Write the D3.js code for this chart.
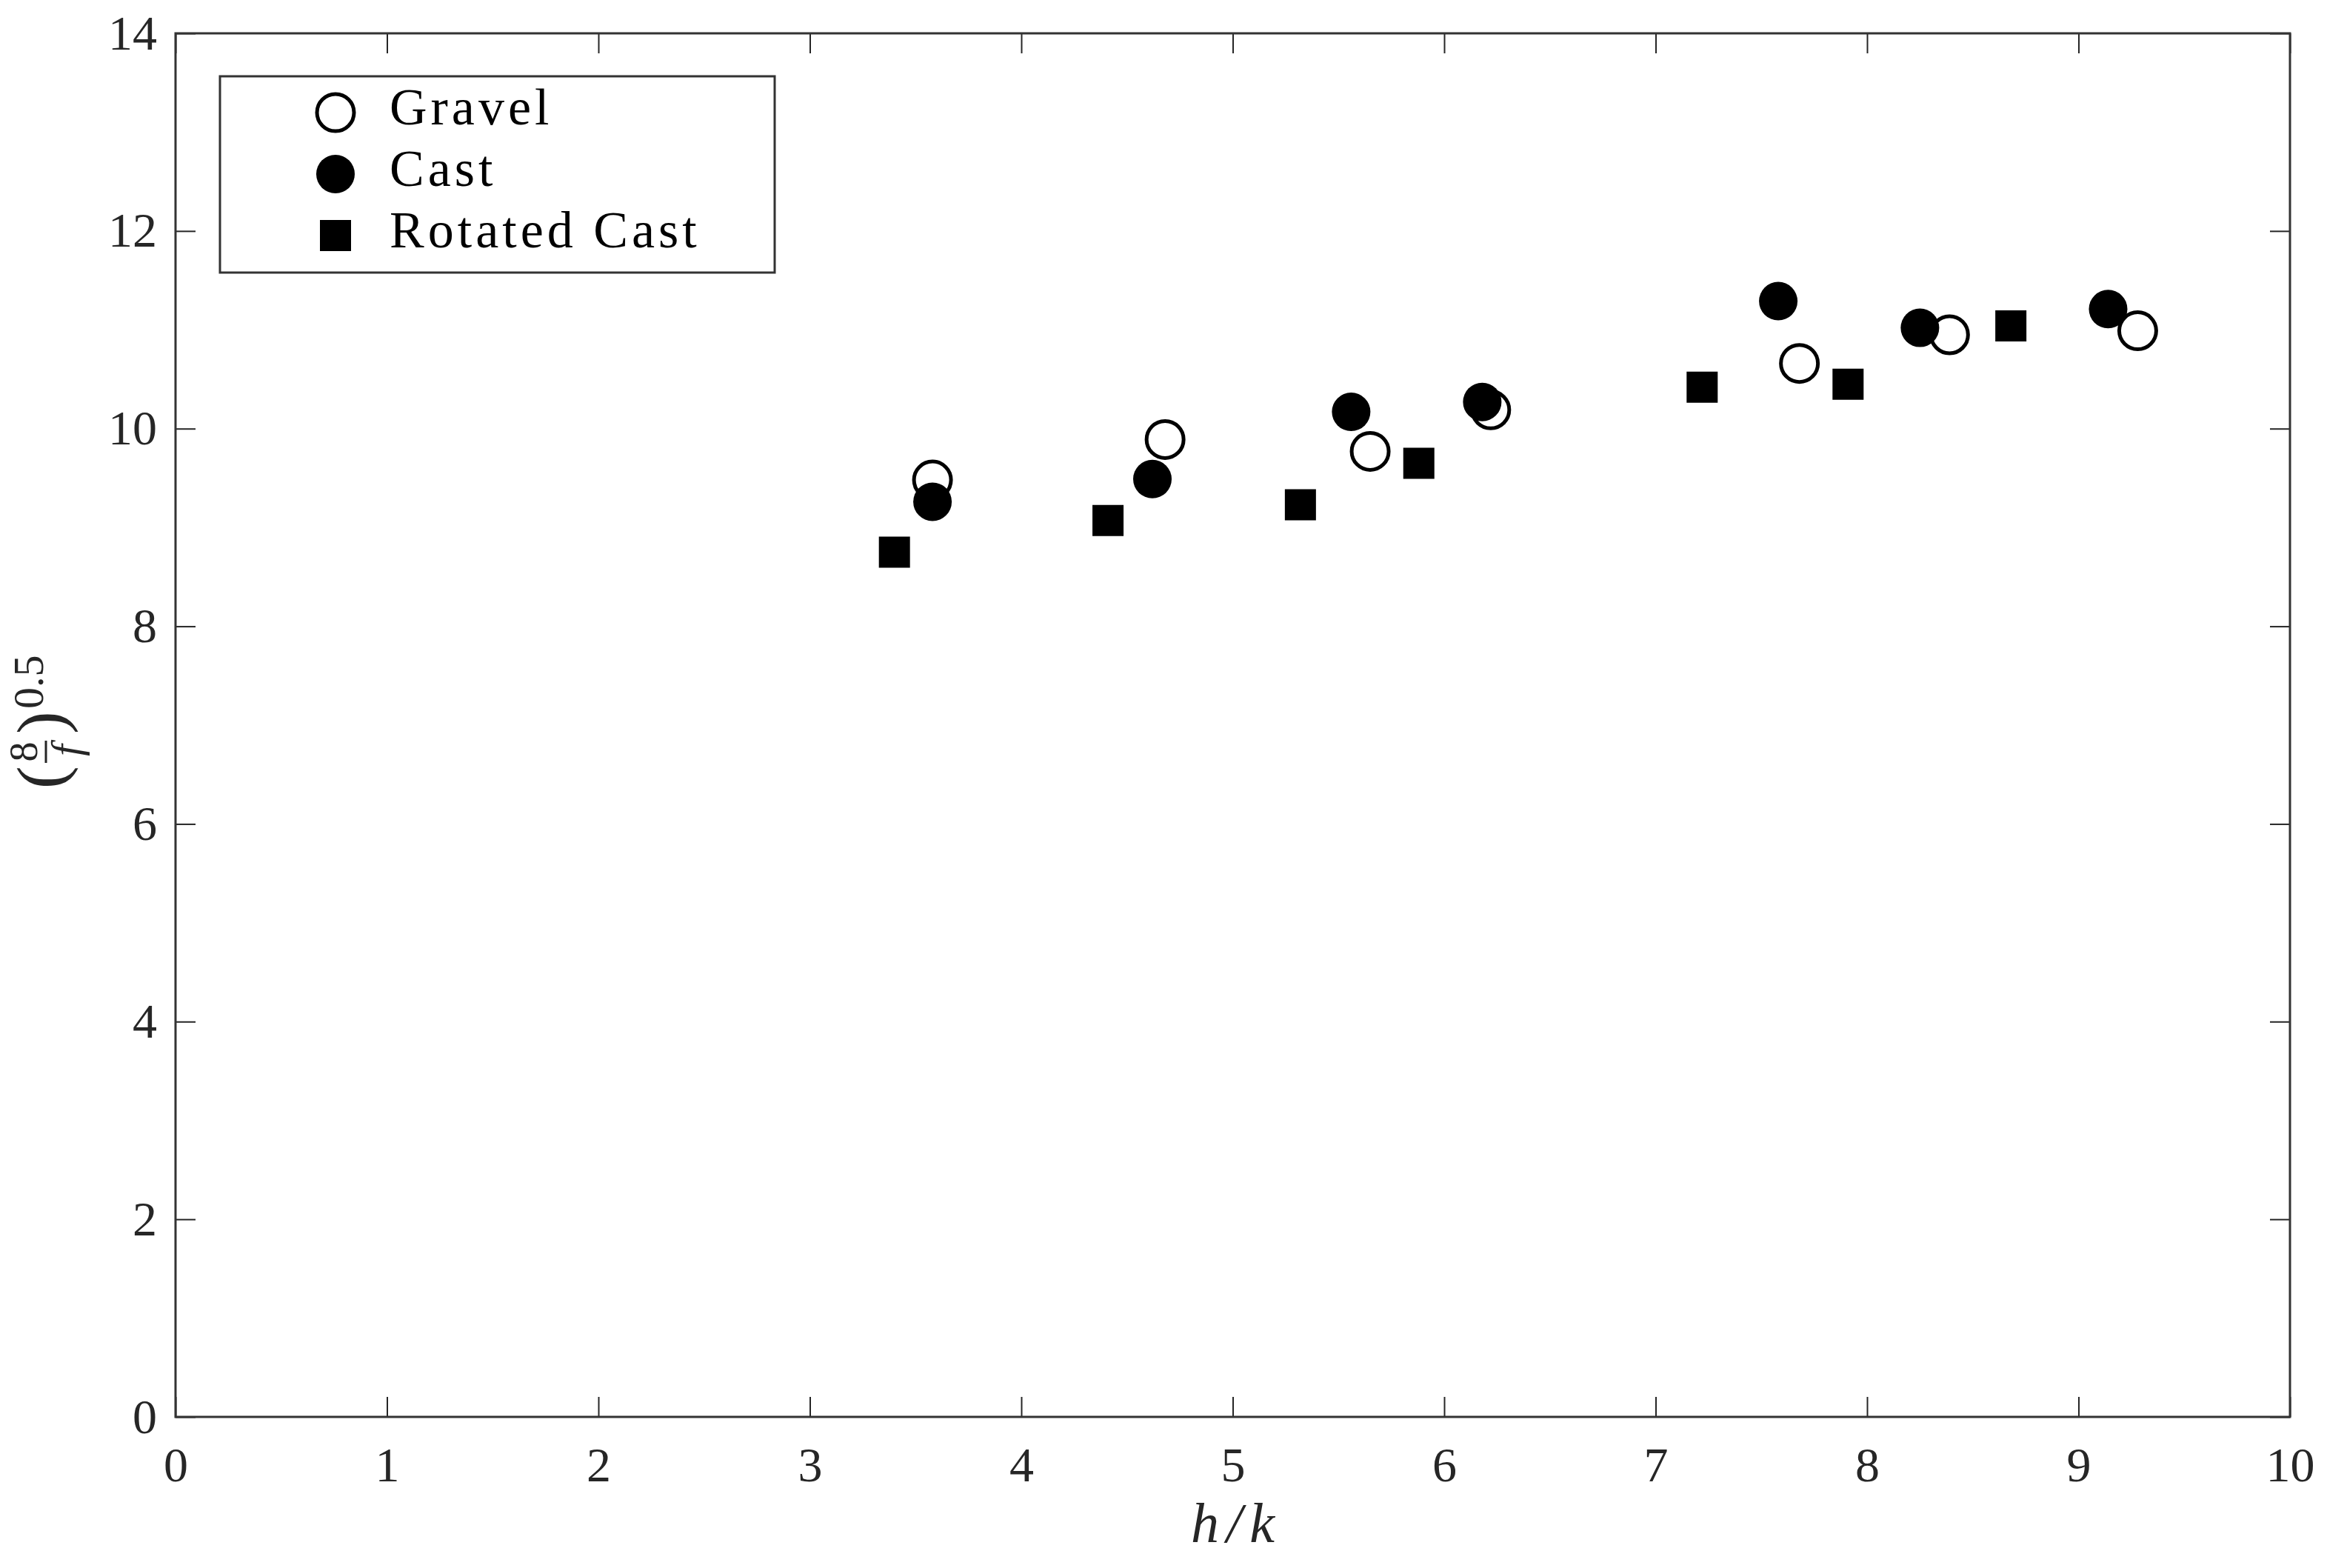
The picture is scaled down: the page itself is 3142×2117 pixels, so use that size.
<!DOCTYPE html>
<html>
<head>
<meta charset="utf-8">
<script src="https://cdn.jsdelivr.net/npm/d3@7"></script>
<style>
  html, body { margin: 0; padding: 0; background: #fff; }
  svg { display: block; }
</style>
</head>
<body>
<div id="container"></div>
<script>
// data
const gravelX = [3.58, 4.68, 5.65, 6.22, 7.68, 8.39, 9.28]
const gravelY = [9.48, 9.89, 9.77, 10.19, 10.66, 10.95, 10.99]
const castX = [3.58, 4.62, 5.56, 6.18, 7.58, 8.25, 9.14]
const castY = [9.26, 9.49, 10.17, 10.27, 11.29, 11.02, 11.21]
const rotatedX = [3.40, 4.41, 5.32, 5.88, 7.22, 7.91, 8.68]
const rotatedY = [8.75, 9.07, 9.23, 9.65, 10.42, 10.45, 11.04]

const xTicks = [0, 1, 2, 3, 4, 5, 6, 7, 8, 9, 10]
const yTicks = [0, 2, 4, 6, 8, 10, 12, 14]
const legendNames = ["Gravel", "Cast", "Rotated Cast"]

const width = 3142
const height = 2117
const margin = {left: 237, right: 50, top: 45, bottom: 204}
const font = "'Liberation Serif', 'Times New Roman', serif"

const svg = d3.select("#container").append("svg")
    .attr("width", width)
    .attr("height", height)

svg.append("rect").attr("width", width).attr("height", height).attr("fill", "#fff")

const x = d3.scaleLinear().domain([0, 10]).range([margin.left, width - margin.right])
const y = d3.scaleLinear().domain([0, 14]).range([height - margin.bottom, margin.top])

const tickLen = 27

function styleAxis(g){
    g.select(".domain").remove()
    g.selectAll(".tick line").attr("stroke", "#262626").attr("stroke-width", 2)
    g.selectAll(".tick text")
        .attr("fill", "#262626")
        .style("font-family", font)
        .style("font-size", "66px")
}

svg.append("g")
    .attr("transform", `translate(0,${y(0)})`)
    .call(d3.axisBottom(x).tickValues(xTicks).tickFormat(d3.format("d")).tickSize(-tickLen).tickSizeOuter(0).tickPadding(40))
    .call(styleAxis)

svg.append("g")
    .attr("transform", `translate(0,${y(14)})`)
    .call(d3.axisTop(x).tickValues(xTicks).tickFormat("").tickSize(-tickLen).tickSizeOuter(0))
    .call(styleAxis)

svg.append("g")
    .attr("transform", `translate(${x(0)},0)`)
    .call(d3.axisLeft(y).tickValues(yTicks).tickFormat(d3.format("d")).tickSize(-tickLen).tickSizeOuter(0).tickPadding(25))
    .call(styleAxis)

svg.append("g")
    .attr("transform", `translate(${x(10)},0)`)
    .call(d3.axisRight(y).tickValues(yTicks).tickFormat("").tickSize(-tickLen).tickSizeOuter(0))
    .call(styleAxis)

// frame
svg.append("rect")
    .attr("x", x(0))
    .attr("y", y(14))
    .attr("width", x(10) - x(0))
    .attr("height", y(0) - y(14))
    .attr("fill", "none")
    .attr("stroke", "#333")
    .attr("stroke-width", 3)

// markers
const circleSym = d3.symbol().type(d3.symbolCircle)
const squareSym = d3.symbol().type(d3.symbolSquare)

const gravel = gravelX.map((d, i) => ({x: d, y: gravelY[i]}))
const cast = castX.map((d, i) => ({x: d, y: castY[i]}))
const rotated = rotatedX.map((d, i) => ({x: d, y: rotatedY[i]}))

const series = [
    {name: legendNames[0], data: gravel, path: circleSym.size(1963)(), fill: "none", stroke: "#000", sw: 5},
    {name: legendNames[1], data: cast, path: circleSym.size(2124)(), fill: "#000", stroke: "none", sw: 0},
    {name: legendNames[2], data: rotated, path: squareSym.size(1764)(), fill: "#000", stroke: "none", sw: 0}
]

series.forEach(s => {
    svg.append("g").selectAll("path")
        .data(s.data)
        .join("path")
        .attr("transform", d => `translate(${x(d.x)},${y(d.y)})`)
        .attr("d", s.path)
        .attr("fill", s.fill)
        .attr("stroke", s.stroke)
        .attr("stroke-width", s.sw)
})

// legend
const legend = svg.append("g").attr("transform", "translate(297,103)")
legend.append("rect")
    .attr("width", 749)
    .attr("height", 265)
    .attr("fill", "#fff")
    .attr("stroke", "#333")
    .attr("stroke-width", 3)

const item = legend.selectAll(".item")
    .data(series)
    .join("g")
    .attr("class", "item")
    .attr("transform", (d, i) => `translate(0,${49 + i * 83})`)

item.append("path")
    .attr("transform", "translate(156,0)")
    .attr("d", d => d.path)
    .attr("fill", d => d.fill)
    .attr("stroke", d => d.stroke)
    .attr("stroke-width", d => d.sw)

item.append("text")
    .attr("x", 229)
    .attr("y", 16)
    .text(d => d.name)
    .style("font-family", font)
    .style("font-size", "70px")
    .style("letter-spacing", "5px")
    .attr("fill", "#000")

// x label
svg.append("text")
    .attr("x", x(5) + 5)
    .attr("y", 2082)
    .attr("text-anchor", "middle")
    .style("font-family", font)
    .style("font-size", "76px")
    .style("font-style", "italic")
    .style("letter-spacing", "10px")
    .attr("fill", "#262626")
    .text("h/k")

// y label: (8/f)^0.5, rotated
const yl = svg.append("g")
    .attr("transform", "translate(62,1015) rotate(-90)")
    .attr("fill", "#262626")
    .style("font-family", font)

yl.append("text").attr("x", -50).attr("y", 24).style("font-size", "92px").text("(")
yl.append("text").attr("x", 0).attr("y", -12).attr("text-anchor", "middle").style("font-size", "54px").text("8")
yl.append("line").attr("x1", -15).attr("x2", 15).attr("y1", 0).attr("y2", 0).attr("stroke", "#262626").attr("stroke-width", 3)
yl.append("text").attr("x", 2).attr("y", 47).attr("text-anchor", "middle").style("font-size", "56px").style("font-style", "italic").text("f")
yl.append("text").attr("x", 24).attr("y", 24).style("font-size", "92px").text(")")
yl.append("text").attr("x", 58).attr("y", -4).style("font-size", "58px").text("0.5")
</script>
</body>
</html>
